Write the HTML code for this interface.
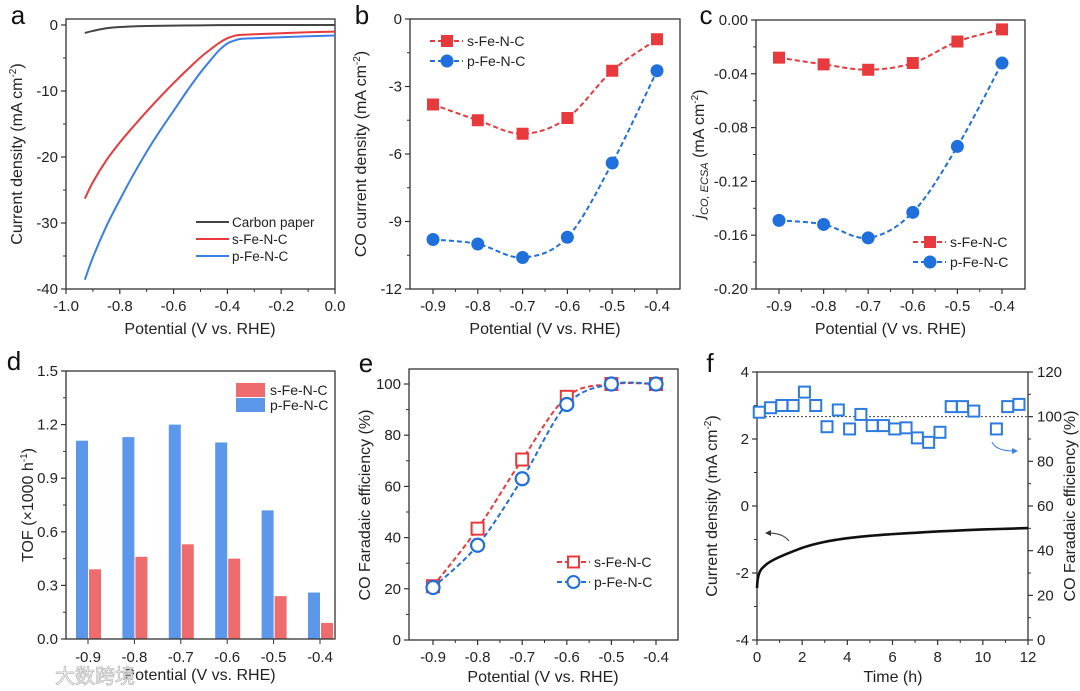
<!DOCTYPE html>
<html><head><meta charset="utf-8"><style>
body{margin:0;background:#fff;}
svg{display:block;font-family:"Liberation Sans",Arial,sans-serif;}
</style></head><body>
<svg id="fig" width="1080" height="691" viewBox="0 0 1080 691" xmlns="http://www.w3.org/2000/svg"></svg>
<script>
// ---------- data ----------
const aCarbonX=[-0.93,-0.9,-0.85,-0.8,-0.7,-0.5,-0.3,0];
const aCarbonY=[-1.2,-0.9,-0.5,-0.3,-0.15,-0.05,0,0];
const aSX=[-0.93,-0.9,-0.85,-0.8,-0.75,-0.7,-0.65,-0.6,-0.55,-0.5,-0.46,-0.43,-0.4,-0.37,-0.35,-0.3,-0.2,-0.1,0];
const aSY=[-26.3,-23.8,-20.5,-17.8,-15.4,-13.1,-10.9,-8.8,-6.8,-4.9,-3.6,-2.7,-2.0,-1.6,-1.5,-1.4,-1.25,-1.1,-1.0];
const aPX=[-0.93,-0.9,-0.85,-0.8,-0.75,-0.7,-0.65,-0.6,-0.55,-0.5,-0.46,-0.43,-0.4,-0.37,-0.35,-0.3,-0.2,-0.1,0];
const aPY=[-38.6,-35.2,-30.5,-26.5,-22.7,-19.2,-16,-13,-10,-7.2,-5.2,-3.8,-2.8,-2.3,-2.1,-2.0,-1.85,-1.7,-1.6];
const potentials=[-0.9,-0.8,-0.7,-0.6,-0.5,-0.4];
const potLabels=["-0.9","-0.8","-0.7","-0.6","-0.5","-0.4"];
const bS=[-3.8,-4.5,-5.1,-4.4,-2.3,-0.9];
const bP=[-9.8,-10.0,-10.6,-9.7,-6.4,-2.3];
const cS=[-0.028,-0.033,-0.037,-0.032,-0.016,-0.007];
const cP=[-0.149,-0.152,-0.162,-0.143,-0.094,-0.032];
const dS=[0.39,0.46,0.53,0.45,0.24,0.09];
const dP=[1.11,1.13,1.20,1.10,0.72,0.26];
const eS=[21,43.5,70.5,95,100,100];
const eP=[20.5,37,63,92,100,100];
const fFeT=[0.1,0.6,1.1,1.6,2.1,2.6,3.1,3.6,4.1,4.6,5.1,5.6,6.1,6.6,7.1,7.6,8.1,8.6,9.1,9.6,10.6,11.1,11.6];
const fFe=[102,104,105,105,111,105,95.5,103,94.5,101,96,96,94.5,95,90.5,88.5,93,104.5,104.5,102.5,94.5,104.5,105.5];
const fCurT=[0,0.03,0.1,0.2,0.35,0.5,0.75,1,1.5,2,2.5,3,3.5,4,5,6,7,8,9,10,11,12];
const fCur=[-2.45,-2.2,-2.0,-1.88,-1.78,-1.7,-1.6,-1.52,-1.38,-1.25,-1.15,-1.07,-1.01,-0.96,-0.89,-0.84,-0.8,-0.76,-0.73,-0.7,-0.68,-0.66];
const aXTicks=["-1.0","-0.8","-0.6","-0.4","-0.2","0.0"];
const aYTicks=["0","-10","-20","-30","-40"];
const bYTicks=["0","-3","-6","-9","-12"];
const cYTicks=["0.00","-0.04","-0.08","-0.12","-0.16","-0.20"];
const dYTicks=["0.0","0.3","0.6","0.9","1.2","1.5"];
const eYTicks=["0","20","40","60","80","100"];
const fXTicks=["0","2","4","6","8","10","12"];
const fYTicks=["-4","-2","0","2","4"];
const fY2Ticks=["0","20","40","60","80","100","120"];

// ---------- helpers ----------
const NS="http://www.w3.org/2000/svg";
const svg=document.getElementById('fig');
function mk(tag,attrs,parent){const e=document.createElementNS(NS,tag);for(const k in attrs)e.setAttribute(k,attrs[k]);(parent||svg).appendChild(e);return e;}
function txt(s,x,y,size,anchor,parent,extra){const t=mk('text',Object.assign({x:x,y:y,'font-size':size,'text-anchor':anchor||'middle',fill:'#222'},extra||{}),parent);t.textContent=s;return t;}
function lin(d0,d1,r0,r1){return v=>r0+(v-d0)/(d1-d0)*(r1-r0);}
function spline(pts){let d='M'+pts[0][0]+','+pts[0][1];for(let i=0;i<pts.length-1;i++){const p0=pts[i-1]||pts[i],p1=pts[i],p2=pts[i+1],p3=pts[i+2]||p2;const c1=[p1[0]+(p2[0]-p0[0])/6,p1[1]+(p2[1]-p0[1])/6],c2=[p2[0]-(p3[0]-p1[0])/6,p2[1]-(p3[1]-p1[1])/6];d+=' C'+c1[0]+','+c1[1]+' '+c2[0]+','+c2[1]+' '+p2[0]+','+p2[1];}return d;}
function box(g,x0,y0,x1,y1){mk('rect',{x:x0,y:y0,width:x1-x0,height:y1-y0,fill:'none',stroke:'#333','stroke-width':1.3},g);}
function xTicks(g,labels,xs,yb,minor){labels.forEach((l,i)=>{mk('line',{x1:xs[i],x2:xs[i],y1:yb,y2:yb+5,stroke:'#333','stroke-width':1.2},g);txt(l,xs[i],yb+22,15,'middle',g);});(minor||[]).forEach(x=>mk('line',{x1:x,x2:x,y1:yb,y2:yb+3,stroke:'#333'},g));}
function yTicks(g,labels,ys,xl,minor,right){labels.forEach((l,i)=>{mk('line',{x1:xl,x2:right?xl+5:xl-5,y1:ys[i],y2:ys[i],stroke:'#333','stroke-width':1.2},g);txt(l,right?xl+9:xl-8,ys[i]+5,15,right?'start':'end',g);});(minor||[]).forEach(y=>mk('line',{x1:xl,x2:right?xl+3:xl-3,y1:y,y2:y,stroke:'#333'},g));}
function yTitle(g,s,x,y,size){const t=mk('text',{x:0,y:0,'font-size':size||16,'text-anchor':'middle',fill:'#222',transform:'translate('+x+','+y+') rotate(-90)'},g);t.innerHTML=s;return t;}
function mids(arr){const m=[];for(let i=0;i<arr.length-1;i++)m.push((arr[i]+arr[i+1])/2);return m;}
const RED='#e8393c',BLUE='#1f6fdc';

// ---------- panel a ----------
(function(){
const g=mk('g',{});
const X=lin(-1,0,66,335),Y=lin(0,-40,25,289);
box(g,66,19,335,289);
const xs=[-1,-0.8,-0.6,-0.4,-0.2,0].map(X);xTicks(g,aXTicks,xs,289,mids(xs));
const ys=[0,-10,-20,-30,-40].map(Y);yTicks(g,aYTicks,ys,66,mids(ys));
[[aCarbonX,aCarbonY,'#444','carbon-paper-curve'],[aSX,aSY,'#e8393c','s-fe-n-c-curve'],[aPX,aPY,'#3a7fe6','p-fe-n-c-curve']].forEach(s=>{
 const p=mk('path',{d:spline(s[0].map((v,i)=>[X(v),Y(s[1][i])])),fill:'none',stroke:s[2],'stroke-width':2},g);
 });
[['Carbon paper','#444',222],['s-Fe-N-C','#e8393c',239],['p-Fe-N-C','#3a7fe6',256]].forEach(l=>{
 const lg=mk('g',{},g);
 mk('line',{x1:196,x2:229,y1:l[2],y2:l[2],stroke:l[1],'stroke-width':2},lg);txt(l[0],232,l[2]+5,13.5,'start',lg);});
txt('a',18,24,26,'middle',g,{fill:'#111'});
txt('Potential (V vs. RHE)',200,334,16,'middle',g);
yTitle(g,'Current density (mA cm<tspan font-size="10" dy="-6">-2</tspan><tspan dy="6">)</tspan>',22,154);
})();

// ---------- panel b & c ----------
function markerPanel(name,letter,X0,X1,xA,xB,yTop,yMin,yMax,ticks,tickVals,S,P,legX,legY,ytitle,ytx,letterX){
 const g=mk('g',{});
 const X=lin(-0.9,-0.4,xA,xB),Y=lin(yMax,yMin,yTop,289);
 box(g,X0,yTop,X1,289);
 const xs=potentials.map(X);xTicks(g,potLabels,xs,289,mids(xs));
 const ys=tickVals.map(Y);yTicks(g,ticks,ys,X0,mids(ys));
 [[S,RED,'s'],[P,BLUE,'p']].forEach(s=>{
  const pts=potentials.map((v,i)=>[X(v),Y(s[0][i])]);
  const p=mk('path',{d:spline(pts),fill:'none',stroke:s[1],'stroke-width':2,'stroke-dasharray':'5,3'},g);
  
  pts.forEach(q=>{let m;if(s[2]==='s')m=mk('rect',{x:q[0]-6,y:q[1]-6,width:12,height:12,fill:s[1]},g);else m=mk('circle',{cx:q[0],cy:q[1],r:6.5,fill:s[1]},g);
   });
 });
 [['s-Fe-N-C',RED,'s',legY],['p-Fe-N-C',BLUE,'p',legY+20]].forEach(l=>{
  const lg=mk('g',{},g);
  mk('line',{x1:legX,x2:legX+33,y1:l[3],y2:l[3],stroke:l[1],'stroke-width':2,'stroke-dasharray':'5,3'},lg);
  if(l[2]==='s')mk('rect',{x:legX+11,y:l[3]-6,width:12,height:12,fill:l[1]},lg);else mk('circle',{cx:legX+17,cy:l[3],r:6.5,fill:l[1]},lg);
  txt(l[0],legX+37,l[3]+5,14,'start',lg);});
 txt(letter,letterX,24,26,'middle',g,{fill:'#111'});
 txt('Potential (V vs. RHE)',(X0+X1)/2,334,16,'middle',g);
 yTitle(g,ytitle,ytx,154);
}
markerPanel('panel-b-co-current','b',410,680,433,657,19,-12,0,bYTicks,[0,-3,-6,-9,-12],bS,bP,430,41,'CO current density (mA cm<tspan font-size="10" dy="-6">-2</tspan><tspan dy="6">)</tspan>',366,362);
markerPanel('panel-c-jco-ecsa','c',756,1025,779,1002,20,-0.2,0,cYTicks,[0,-0.04,-0.08,-0.12,-0.16,-0.2],cS,cP,913,242,'<tspan font-style="italic">j</tspan><tspan font-size="11" dy="4" font-style="italic">CO, ECSA</tspan><tspan dy="-4"> (mA cm</tspan><tspan font-size="10" dy="-6">-2</tspan><tspan dy="6">)</tspan>',704,706);

// ---------- panel d ----------
(function(){
const g=mk('g',{});
const Y=lin(0,1.5,639,371);const X=lin(-0.9,-0.4,88,320);
const xs=potentials.map(X);
potentials.forEach((v,i)=>{
 const b=mk('rect',{x:xs[i]-12,y:Y(dP[i]),width:12,height:639-Y(dP[i]),fill:'#5b97ea'},g);
 const r=mk('rect',{x:xs[i]+1,y:Y(dS[i]),width:12,height:639-Y(dS[i]),fill:'#ef6c6e'},g);
});
box(g,66,371,335,639);
xs.forEach((x,i)=>{mk('line',{x1:x,x2:x,y1:639,y2:644,stroke:'#333'},g);txt(potLabels[i],x,662,15,'middle',g);});
const ys=[0,0.3,0.6,0.9,1.2,1.5].map(Y);yTicks(g,dYTicks,ys,66,mids(ys));
[['s-Fe-N-C','#ef6c6e',390],['p-Fe-N-C','#5b97ea',405]].forEach(l=>{const lg=mk('g',{},g);
 mk('rect',{x:236,y:l[2]-7,width:29,height:14,fill:l[1]},lg);txt(l[0],270,l[2]+5,14,'start',lg);});
txt('d',14,370,26,'middle',g,{fill:'#111'});
txt('Potential (V vs. RHE)',200,680,16,'middle',g);
yTitle(g,'TOF (×1000 h<tspan font-size="10" dy="-6">-1</tspan><tspan dy="6">)</tspan>',33,505);
const wm=txt('大数跨境',95,683,20,'middle',g,{fill:'#fff',stroke:'#bbb','stroke-width':0.8,'font-family':'"Liberation Sans","Noto Sans CJK SC",sans-serif'});
})();

// ---------- panel e ----------
(function(){
const g=mk('g',{});
const X=lin(-0.9,-0.4,433,656),Y=lin(0,100,640,384);
box(g,409,369,678,640);
const xs=potentials.map(X);xTicks(g,potLabels,xs,640,mids(xs));
const ys=[0,20,40,60,80,100].map(Y);yTicks(g,eYTicks,ys,409,mids(ys));
[[eS,RED,'s'],[eP,BLUE,'p']].forEach(s=>{
 const pts=potentials.map((v,i)=>[X(v),Y(s[0][i])]);
 const p=mk('path',{d:spline(pts),fill:'none',stroke:s[1],'stroke-width':2,'stroke-dasharray':'5,3'},g);
 pts.forEach(q=>{let m;if(s[2]==='s')m=mk('rect',{x:q[0]-6,y:q[1]-6,width:12,height:12,fill:'#fff',stroke:s[1],'stroke-width':2},g);else m=mk('circle',{cx:q[0],cy:q[1],r:6.5,fill:'#fff',stroke:s[1],'stroke-width':2.2},g);
  });
});
[['s-Fe-N-C',RED,'s',562],['p-Fe-N-C',BLUE,'p',582]].forEach(l=>{const lg=mk('g',{},g);
 mk('line',{x1:557,x2:590,y1:l[3],y2:l[3],stroke:l[1],'stroke-width':2,'stroke-dasharray':'5,3'},lg);
 if(l[2]==='s')mk('rect',{x:568,y:l[3]-5.5,width:11,height:11,fill:'#fff',stroke:l[1],'stroke-width':2},lg);else mk('circle',{cx:573.5,cy:l[3],r:6,fill:'#fff',stroke:l[1],'stroke-width':2},lg);
 txt(l[0],594,l[3]+5,14,'start',lg);});
txt('e',366,372,26,'middle',g,{fill:'#111'});
txt('Potential (V vs. RHE)',543,682,16,'middle',g);
yTitle(g,'CO Faradaic efficiency (%)',370,505);
})();

// ---------- panel f ----------
(function(){
const g=mk('g',{});
const X=lin(0,12,757,1028),Y=lin(-4,4,640,372),Y2=lin(0,120,640,372);
box(g,757,372,1028,640);
const xs=[0,2,4,6,8,10,12].map(X);xTicks(g,fXTicks,xs,640,mids(xs));
const ys=[-4,-2,0,2,4].map(Y);yTicks(g,fYTicks,ys,757,mids(ys));
const ys2=[0,20,40,60,80,100,120].map(Y2);yTicks(g,fY2Ticks,ys2,1028,mids(ys2),true);
const ref=mk('line',{x1:757,x2:1028,y1:Y2(100),y2:Y2(100),stroke:'#444','stroke-width':1,'stroke-dasharray':'2,2'},g);
const cur=mk('path',{d:spline(fCurT.map((t,i)=>[X(t),Y(fCur[i])])),fill:'none',stroke:'#111','stroke-width':2.6},g);
fFeT.forEach((t,i)=>{const m=mk('rect',{x:X(t)-5.5,y:Y2(fFe[i])-5.5,width:11,height:11,fill:'#fff',stroke:'#2c7be0','stroke-width':2},g);});
const ar1=mk('path',{d:'M789,541 Q783,533 768,533',fill:'none',stroke:'#333','stroke-width':1},g);
mk('path',{d:'M765,533 L771,530 L771,536 Z',fill:'#333'},g);
const ar2=mk('path',{d:'M992,442 Q996,451 1014,451',fill:'none',stroke:'#3a7fe6','stroke-width':1},g);
mk('path',{d:'M1018,451 L1012,448 L1012,454 Z',fill:'#3a7fe6'},g);
txt('f',710,372,26,'middle',g,{fill:'#111'});
txt('Time (h)',893,682,16,'middle',g);
yTitle(g,'Current density (mA cm<tspan font-size="10" dy="-6">-2</tspan><tspan dy="6">)</tspan>',717,506);
yTitle(g,'CO Faradaic efficiency (%)',1075,506);
})();
</script>
</body></html>
